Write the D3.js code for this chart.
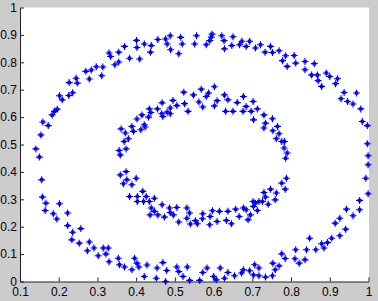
<!DOCTYPE html>
<html>
<head>
<meta charset="utf-8">
<script src="https://cdn.jsdelivr.net/npm/d3@7"></script>
<style>
    body { margin: 0; background: #cccccc; }
    svg { display: block; }
</style>
</head>
<body>
<div id="chart"></div>
<script>
var xTicks = [0.1, 0.2, 0.3, 0.4, 0.5, 0.6, 0.7, 0.8, 0.9, 1];
var xTickLabels = ['0.1', '0.2', '0.3', '0.4', '0.5', '0.6', '0.7', '0.8', '0.9', '1'];
var yTicks = [0, 0.1, 0.2, 0.3, 0.4, 0.5, 0.6, 0.7, 0.8, 0.9, 1];
var yTickLabels = ['0', '0.1', '0.2', '0.3', '0.4', '0.5', '0.6', '0.7', '0.8', '0.9', '1'];

// outer ring points [x, y]
var outerRing = [
    [0.401,0.880],[0.402,0.854],[0.370,0.858],[0.355,0.837],[0.330,0.834],[0.334,0.821],
    [0.383,0.815],[0.355,0.801],[0.345,0.791],[0.314,0.783],[0.297,0.784],[0.284,0.772],
    [0.270,0.767],[0.311,0.751],[0.279,0.739],[0.245,0.742],[0.248,0.724],[0.227,0.726],
    [0.236,0.689],[0.226,0.679],[0.202,0.678],[0.209,0.663],[0.196,0.629],[0.189,0.621],
    [0.183,0.608],[0.159,0.582],[0.173,0.569],[0.154,0.535],[0.409,0.812],[0.421,0.867],
    [0.439,0.861],[0.437,0.837],[0.456,0.883],[0.476,0.885],[0.488,0.897],[0.480,0.867],
    [0.489,0.846],[0.515,0.891],[0.519,0.867],[0.510,0.831],[0.556,0.897],[0.551,0.867],
    [0.581,0.864],[0.590,0.879],[0.596,0.903],[0.594,0.892],[0.621,0.897],[0.627,0.879],
    [0.628,0.849],[0.650,0.893],[0.647,0.861],[0.667,0.864],[0.673,0.877],[0.684,0.858],
    [0.693,0.877],[0.708,0.852],[0.721,0.864],[0.733,0.837],[0.747,0.858],[0.752,0.836],
    [0.769,0.842],[0.786,0.824],[0.808,0.825],[0.778,0.806],[0.790,0.785],[0.812,0.797],
    [0.836,0.803],[0.860,0.795],[0.836,0.773],[0.853,0.754],[0.868,0.754],[0.891,0.761],
    [0.900,0.748],[0.920,0.740],[0.870,0.733],[0.879,0.712],[0.915,0.722],[0.937,0.690],
    [0.969,0.688],[0.929,0.667],[0.946,0.657],[0.960,0.648],[0.980,0.630],[0.984,0.584],
    [0.997,0.569],[0.997,0.503],[0.999,0.459],[0.999,0.426],[0.993,0.377],[0.999,0.320],
    [0.977,0.296],[0.977,0.262],[0.943,0.264],[0.960,0.240],[0.926,0.231],[0.914,0.213],
    [0.941,0.191],[0.926,0.167],[0.905,0.158],[0.894,0.142],[0.879,0.138],[0.885,0.122],
    [0.864,0.116],[0.848,0.158],[0.840,0.116],[0.812,0.116],[0.810,0.083],[0.821,0.067],
    [0.836,0.079],[0.776,0.101],[0.785,0.084],[0.769,0.057],[0.753,0.067],[0.759,0.043],
    [0.752,0.021],[0.734,0.016],[0.717,0.049],[0.717,0.021],[0.706,0.061],[0.703,0.024],
    [0.693,0.039],[0.677,0.043],[0.672,0.031],[0.654,0.021],[0.637,0.033],[0.628,0.012],
    [0.617,0.049],[0.607,0.006],[0.600,0.018],[0.583,0.049],[0.572,0.033],[0.564,0.004],
    [0.538,0.004],[0.532,0.053],[0.521,0.018],[0.510,0.036],[0.505,0.053],[0.476,0.000],
    [0.479,0.040],[0.469,0.069],[0.452,0.012],[0.454,0.049],[0.428,0.060],[0.421,0.018],
    [0.407,0.053],[0.396,0.085],[0.402,0.067],[0.389,0.043],[0.370,0.053],[0.357,0.061],
    [0.354,0.085],[0.330,0.072],[0.322,0.100],[0.328,0.122],[0.315,0.122],[0.302,0.094],
    [0.291,0.122],[0.274,0.112],[0.279,0.144],[0.253,0.140],[0.234,0.152],[0.257,0.193],
    [0.236,0.180],[0.223,0.204],[0.223,0.250],[0.202,0.284],[0.195,0.228],[0.186,0.247],
    [0.165,0.259],[0.167,0.286],[0.158,0.308],[0.156,0.371],[0.150,0.454],[0.141,0.484]
];

// inner ring points [x, y]
var innerRing = [
    [0.402,0.593],[0.389,0.566],[0.361,0.557],[0.393,0.548],[0.372,0.542],[0.380,0.521],
    [0.369,0.511],[0.412,0.554],[0.423,0.564],[0.421,0.572],[0.415,0.608],[0.432,0.600],
    [0.438,0.617],[0.434,0.630],[0.455,0.630],[0.466,0.612],[0.469,0.602],[0.467,0.652],
    [0.488,0.633],[0.480,0.618],[0.488,0.612],[0.495,0.661],[0.505,0.642],[0.525,0.649],
    [0.534,0.621],[0.523,0.691],[0.548,0.681],[0.562,0.655],[0.572,0.637],[0.568,0.702],
    [0.587,0.688],[0.581,0.675],[0.602,0.711],[0.609,0.660],[0.602,0.641],[0.628,0.681],
    [0.637,0.663],[0.661,0.653],[0.677,0.675],[0.684,0.639],[0.702,0.657],[0.676,0.621],
    [0.697,0.621],[0.650,0.621],[0.631,0.621],[0.703,0.590],[0.713,0.630],[0.730,0.608],
    [0.752,0.594],[0.734,0.578],[0.765,0.566],[0.730,0.560],[0.753,0.550],[0.769,0.539],
    [0.762,0.521],[0.776,0.511],[0.783,0.511],[0.782,0.487],[0.790,0.469],[0.786,0.450],
    [0.788,0.377],[0.776,0.359],[0.785,0.337],[0.747,0.337],[0.762,0.323],[0.730,0.325],
    [0.734,0.308],[0.726,0.292],[0.759,0.298],[0.717,0.292],[0.741,0.282],[0.708,0.286],
    [0.713,0.259],[0.703,0.274],[0.702,0.292],[0.695,0.243],[0.689,0.225],[0.684,0.262],
    [0.677,0.268],[0.666,0.237],[0.657,0.264],[0.646,0.211],[0.637,0.256],[0.633,0.223],
    [0.615,0.256],[0.609,0.219],[0.590,0.207],[0.597,0.258],[0.591,0.237],[0.571,0.229],
    [0.572,0.247],[0.558,0.211],[0.553,0.222],[0.540,0.210],[0.531,0.231],[0.538,0.250],
    [0.531,0.268],[0.510,0.217],[0.496,0.243],[0.505,0.270],[0.488,0.252],[0.486,0.268],
    [0.473,0.235],[0.467,0.280],[0.456,0.243],[0.436,0.243],[0.447,0.256],[0.439,0.268],
    [0.447,0.304],[0.434,0.292],[0.426,0.310],[0.419,0.292],[0.417,0.329],[0.403,0.292],
    [0.403,0.310],[0.383,0.310],[0.400,0.377],[0.389,0.353],[0.367,0.357],[0.376,0.371],
    [0.359,0.389],[0.374,0.401],[0.356,0.478],[0.359,0.462],[0.374,0.484]
];

var dims = {
    width: 378,
    height: 301,
    left: 20,
    right: 368.5,
    top: 7.5,
    bottom: 281.5
};

var x = d3.scaleLinear().domain([0.1, 1]).range([dims.left, dims.right]);
var y = d3.scaleLinear().domain([0, 1]).range([dims.bottom, dims.top]);

var svg = d3.select('#chart')
    .append('svg')
    .attr('width', dims.width)
    .attr('height', dims.height)
    .style('font-family', 'Arial, "Liberation Sans", sans-serif');

svg.append('rect')
    .attr('width', dims.width)
    .attr('height', dims.height)
    .attr('fill', '#cccccc');

svg.append('rect')
    .attr('x', dims.left)
    .attr('y', dims.top)
    .attr('width', dims.right - dims.left + 0.5)
    .attr('height', dims.bottom - dims.top + 0.5)
    .attr('fill', '#ffffff');

var xAxis = d3.axisBottom(x)
    .tickValues(xTicks)
    .tickFormat(function(d, i){ return xTickLabels[i]; })
    .tickSizeInner(-4)
    .tickSizeOuter(0)
    .tickPadding(6);

var yAxis = d3.axisLeft(y)
    .tickValues(yTicks)
    .tickFormat(function(d, i){ return yTickLabels[i]; })
    .tickSizeInner(-4)
    .tickSizeOuter(0)
    .tickPadding(3);

var gx = svg.append('g')
    .attr('transform', 'translate(0,' + dims.bottom + ')')
    .call(xAxis);

var gy = svg.append('g')
    .attr('transform', 'translate(' + dims.left + ',0)')
    .call(yAxis);

[gx, gy].forEach(function(g){
    g.select('.domain').attr('stroke', '#222');
    g.selectAll('.tick line').attr('stroke', '#222');
    g.selectAll('.tick text')
        .attr('fill', '#000')
        .style('font-size', '12px')
        .style('font-family', 'Arial, "Liberation Sans", sans-serif');
});

// small asterisk: long plus arms, short diagonals (reads as a thick-centred plus)
var star = 'M-3.5,0H3.5M0,-3.5V3.5M-1.6,-1.6L1.6,1.6M-1.6,1.6L1.6,-1.6';

var points = svg.append('g').attr('id', 'points');

points.selectAll('path')
    .data(outerRing.concat(innerRing))
    .enter()
    .append('path')
    .attr('d', star)
    .attr('transform', function(d){
        return 'translate(' + x(d[0]) + ',' + y(d[1]) + ')';
    })
    .attr('fill', 'none')
    .attr('stroke', '#0000ff')
    .attr('stroke-width', 1.1);
</script>
</body>
</html>
